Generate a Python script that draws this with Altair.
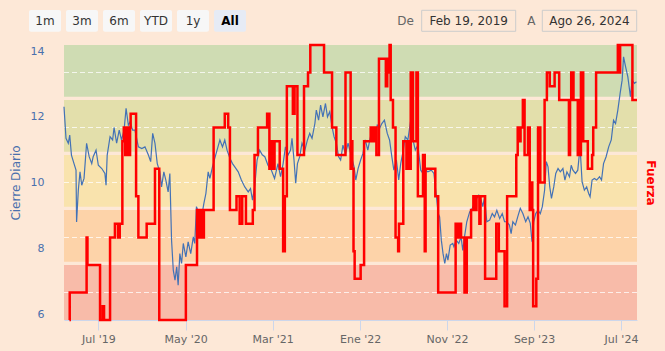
import altair as alt
import pandas as pd

# ---------------- data ----------------
close_dates = [
    "2019-03-03", "2019-03-10", "2019-03-18", "2019-03-23", "2019-03-29", "2019-04-07", "2019-04-14",
    "2019-04-16", "2019-04-22", "2019-04-28", "2019-05-04", "2019-05-12", "2019-05-21", "2019-05-30",
    "2019-06-08", "2019-06-13", "2019-06-23", "2019-07-01", "2019-07-13", "2019-07-24", "2019-07-28",
    "2019-08-01", "2019-08-11", "2019-08-20", "2019-08-25", "2019-09-03", "2019-09-12", "2019-09-20",
    "2019-09-29", "2019-10-06", "2019-10-14", "2019-10-20", "2019-10-29", "2019-11-06", "2019-11-18",
    "2019-11-30", "2019-12-11", "2019-12-23", "2019-12-31", "2020-01-07", "2020-01-15", "2020-01-23",
    "2020-02-01", "2020-02-07", "2020-02-15", "2020-02-22", "2020-03-01", "2020-03-07", "2020-03-13",
    "2020-03-19", "2020-03-25", "2020-03-31", "2020-04-05", "2020-04-11", "2020-04-17", "2020-04-23",
    "2020-05-02", "2020-05-10", "2020-05-19", "2020-05-28", "2020-06-02", "2020-06-08", "2020-06-17",
    "2020-06-26", "2020-07-04", "2020-07-11", "2020-07-19", "2020-07-25", "2020-08-03", "2020-08-11",
    "2020-08-19", "2020-08-29", "2020-09-07", "2020-09-15", "2020-09-23", "2020-10-03", "2020-10-12",
    "2020-10-20", "2020-11-01", "2020-11-12", "2020-11-24", "2020-12-06", "2020-12-14", "2020-12-21",
    "2020-12-29", "2021-01-06", "2021-01-15", "2021-01-24", "2021-02-02", "2021-02-13", "2021-02-25",
    "2021-03-08", "2021-03-20", "2021-03-29", "2021-04-07", "2021-04-15", "2021-04-24", "2021-05-03",
    "2021-05-08", "2021-05-15", "2021-05-21", "2021-05-27", "2021-06-04", "2021-06-12", "2021-06-22",
    "2021-07-01", "2021-07-09", "2021-07-17", "2021-07-27", "2021-08-01", "2021-08-09", "2021-08-16",
    "2021-08-24", "2021-09-02", "2021-09-09", "2021-09-17", "2021-09-25", "2021-10-02", "2021-10-10",
    "2021-10-18", "2021-10-25", "2021-11-02", "2021-11-11", "2021-11-20", "2021-12-02", "2021-12-11",
    "2021-12-17", "2021-12-25", "2022-01-03", "2022-01-11", "2022-01-19", "2022-01-28", "2022-02-04",
    "2022-02-12", "2022-02-21", "2022-03-02", "2022-03-10", "2022-03-18", "2022-03-27", "2022-04-06",
    "2022-04-14", "2022-04-22", "2022-04-29", "2022-05-08", "2022-05-16", "2022-05-23", "2022-06-01",
    "2022-06-08", "2022-06-17", "2022-06-27", "2022-07-05", "2022-07-13", "2022-07-22", "2022-08-01",
    "2022-08-09", "2022-08-17", "2022-08-26", "2022-09-07", "2022-09-16", "2022-09-25", "2022-10-01",
    "2022-10-06", "2022-10-12", "2022-10-18", "2022-10-24", "2022-10-30", "2022-11-04", "2022-11-12",
    "2022-11-21", "2022-11-25", "2022-12-03", "2022-12-12", "2022-12-20", "2022-12-26", "2023-01-01",
    "2023-01-09", "2023-01-19", "2023-01-28", "2023-02-05", "2023-02-13", "2023-02-20", "2023-02-28",
    "2023-03-06", "2023-03-12", "2023-03-20", "2023-03-30", "2023-04-08", "2023-04-16", "2023-04-24",
    "2023-05-04", "2023-05-13", "2023-05-21", "2023-05-29", "2023-06-07", "2023-06-13", "2023-06-19",
    "2023-06-28", "2023-07-06", "2023-07-15", "2023-07-24", "2023-08-03", "2023-08-11", "2023-08-19",
    "2023-08-25", "2023-08-31", "2023-09-07", "2023-09-15", "2023-09-23", "2023-09-30", "2023-10-08",
    "2023-10-14", "2023-10-20", "2023-10-26", "2023-11-01", "2023-11-09", "2023-11-16", "2023-11-24",
    "2023-12-02", "2023-12-11", "2023-12-18", "2023-12-25", "2024-01-03", "2024-01-09", "2024-01-15",
    "2024-01-24", "2024-02-01", "2024-02-09", "2024-02-16", "2024-02-24", "2024-03-03", "2024-03-10",
    "2024-03-15", "2024-03-22", "2024-03-30", "2024-04-07", "2024-04-17", "2024-04-24", "2024-05-01",
    "2024-05-10", "2024-05-19", "2024-05-28", "2024-06-05", "2024-06-12", "2024-06-20", "2024-06-28",
    "2024-07-05", "2024-07-10", "2024-07-17", "2024-07-25", "2024-07-31", "2024-08-03", "2024-08-09",
    "2024-08-17", "2024-08-24",
]
close_values = [
    12.31, 11.35, 11.20, 11.45, 10.84, 10.58, 10.38,
    8.80, 9.77, 10.33, 9.92, 10.13, 11.20, 10.79,
    10.58, 10.79, 10.99, 10.53, 10.43, 10.28, 9.92,
    10.84, 11.40, 11.30, 11.68, 11.20, 11.60, 11.30,
    11.60, 12.26, 11.75, 11.85, 11.60, 11.60, 11.09,
    11.04, 11.09, 10.84, 10.64, 11.50, 11.20, 10.58,
    10.33, 9.87, 10.33, 10.08, 9.72, 10.28, 8.25,
    7.34, 7.03, 7.44, 6.88, 7.84, 7.54, 8.15,
    7.74, 8.20, 7.84, 8.35, 8.15, 9.27, 9.06,
    8.96, 9.37, 9.67, 10.33, 10.13, 10.48, 10.74,
    10.99, 11.30, 11.09, 11.30, 10.99, 10.74, 10.58,
    10.48, 10.33, 10.08, 9.87, 9.72, 9.82, 9.47,
    9.92, 10.69, 10.99, 10.85, 10.79, 10.53, 10.38,
    10.13, 10.58, 10.18, 10.58, 11.09, 10.84, 10.99,
    11.35, 10.69, 9.98, 10.58, 10.79, 11.20, 10.99,
    11.30, 11.50, 11.35, 11.80, 12.21, 11.90, 12.36,
    12.00, 12.41, 12.00, 12.16, 11.70, 11.40, 11.20,
    10.79, 10.69, 11.14, 10.89, 11.20, 10.79, 10.48,
    10.08, 10.43, 10.69, 10.89, 11.30, 10.99, 11.30,
    11.60, 11.40, 11.75, 11.65, 11.80, 11.90, 11.50,
    11.30, 10.79, 10.38, 10.69, 10.08, 10.58, 10.99,
    11.40, 11.30, 11.90, 11.30, 10.99, 11.14, 10.38,
    10.28, 10.38, 10.33, 10.38, 10.28, 9.57, 9.06,
    8.96, 8.25, 7.84, 7.54, 7.84, 7.64, 8.10,
    8.15, 8.05, 8.25, 8.15, 8.35, 7.94, 8.35,
    8.81, 9.11, 9.22, 9.37, 9.52, 9.62, 9.47,
    9.27, 9.57, 8.81, 8.86, 9.06, 8.96, 9.16,
    8.91, 9.06, 8.81, 8.81, 8.71, 8.45, 8.81,
    8.71, 8.96, 9.22, 9.06, 8.81, 8.96, 8.76,
    8.20, 8.81, 9.06, 9.16, 9.06, 9.27, 9.77,
    10.64, 10.48, 9.87, 9.52, 9.87, 10.28, 10.43,
    10.33, 10.43, 10.08, 10.33, 10.18, 10.53, 10.38,
    10.28, 10.38, 11.09, 10.03, 9.77, 9.87, 9.67,
    9.57, 10.08, 10.13, 10.08, 10.18, 10.08, 10.58,
    10.79, 11.09, 11.30, 11.90, 11.80, 12.21, 12.72,
    13.12, 13.83, 13.53, 13.22, 12.82, 12.62, 13.12,
    13.02, 13.07,
]

fuerza_dates = [
    "2019-03-22", "2019-03-23", "2019-05-21", "2019-05-24", "2019-07-07", "2019-07-16", "2019-07-21",
    "2019-08-11", "2019-08-28", "2019-09-08", "2019-09-14", "2019-09-23", "2019-09-28", "2019-10-03",
    "2019-10-08", "2019-10-13", "2019-10-20", "2019-10-22", "2019-11-10", "2019-11-18", "2019-12-17",
    "2020-01-15", "2020-01-30", "2020-05-02", "2020-06-10", "2020-06-16", "2020-06-21", "2020-06-28",
    "2020-07-04", "2020-08-07", "2020-09-15", "2020-09-27", "2020-10-03", "2020-10-26", "2020-11-06",
    "2020-11-15", "2020-11-28", "2020-12-22", "2020-12-28", "2021-01-09", "2021-02-10", "2021-02-18",
    "2021-02-24", "2021-03-03", "2021-03-08", "2021-03-26", "2021-04-07", "2021-04-13", "2021-04-20",
    "2021-05-11", "2021-05-17", "2021-05-27", "2021-06-19", "2021-07-03", "2021-07-11", "2021-08-28",
    "2021-09-25", "2021-10-10", "2021-11-11", "2021-11-29", "2021-12-02", "2021-12-05", "2021-12-09",
    "2021-12-13", "2022-01-03", "2022-01-15", "2022-02-07", "2022-02-12", "2022-02-17", "2022-02-21",
    "2022-02-25", "2022-02-27", "2022-03-08", "2022-04-01", "2022-04-06", "2022-04-11", "2022-04-14",
    "2022-04-18", "2022-04-26", "2022-05-05", "2022-05-14", "2022-05-17", "2022-06-01", "2022-06-12",
    "2022-06-17", "2022-06-20", "2022-06-27", "2022-07-05", "2022-07-17", "2022-07-22", "2022-08-09",
    "2022-08-15", "2022-08-18", "2022-09-21", "2022-10-01", "2022-12-01", "2022-12-07", "2022-12-13",
    "2022-12-20", "2023-01-01", "2023-01-04", "2023-01-07", "2023-01-09", "2023-01-24", "2023-02-01",
    "2023-02-08", "2023-02-12", "2023-02-22", "2023-02-26", "2023-03-14", "2023-04-22", "2023-05-01",
    "2023-05-21", "2023-05-30", "2023-07-01", "2023-07-06", "2023-07-12", "2023-07-16", "2023-07-24",
    "2023-07-30", "2023-08-11", "2023-08-17", "2023-08-22", "2023-08-26", "2023-08-29", "2023-09-09",
    "2023-09-15", "2023-09-23", "2023-10-08", "2023-10-16", "2023-10-26", "2023-11-12", "2023-11-28",
    "2024-01-01", "2024-01-05", "2024-01-09", "2024-01-17", "2024-02-01", "2024-02-05", "2024-02-08",
    "2024-02-12", "2024-02-20", "2024-03-07", "2024-03-22", "2024-03-26", "2024-04-05", "2024-06-20",
    "2024-06-24", "2024-06-28", "2024-08-10", "2024-08-26",
]
fuerza_levels = [
    0, 2, 6, 4, 0, 1, 0,
    6, 7, 6, 7, 13, 14, 12,
    14, 12, 14, 15, 9, 6, 7,
    11, 0, 4, 8, 6, 8, 6,
    8, 14, 15, 14, 8, 9, 7,
    9, 7, 8, 12, 14, 15, 11,
    13, 11, 13, 11, 5, 9, 17,
    15, 17, 12, 17, 18, 20, 18,
    14, 12, 18, 11, 13, 11, 5,
    3, 4, 13, 14, 13, 14, 13,
    14, 12, 19, 17, 19, 18, 20,
    16, 14, 6, 5, 7, 13, 11,
    13, 11, 18, 13, 18, 9, 12,
    5, 11, 9, 2, 7, 6, 7,
    6, 2, 6, 2, 6, 8, 9,
    8, 9, 7, 9, 3, 7, 5,
    1, 9, 12, 14, 13, 14, 16,
    12, 14, 8, 10, 8, 1, 3,
    14, 10, 16, 18, 17, 18, 16,
    12, 16, 18, 16, 12, 16, 12,
    18, 13, 11, 12, 14, 18, 20,
    18, 20, 16, 16,
]

band_low = [0, 4, 8, 12, 16]
band_high = [4, 8, 12, 16, 20]
band_colors = ["#f8bba9", "#fdd3a9", "#f9e3ad", "#e3dfab", "#cfdcb3"]
band_breaks = [4, 8, 12, 16]
fuerza_grid = [2, 6, 10, 14, 18]
price_ticks = [6, 8, 10, 12, 14]
x_tick_months = [(2019, 7), (2020, 5), (2021, 3), (2022, 1), (2022, 11), (2023, 9), (2024, 7)]
month_names = ["Ene", "Feb", "Mar", "Abr", "May", "Jun", "Jul", "Ago", "Sep", "Oct", "Nov", "Dic"]
range_buttons = ["1m", "3m", "6m", "YTD", "1y", "All"]
selected_button = "All"
from_label, from_value = "De", "Feb 19, 2019"
to_label, to_value = "A", "Ago 26, 2024"

# ---------------- styling ----------------
W, H = 573, 275
BG = "#fde8d7"
BLUE = "#4372b6"
BLUE_TXT = "#4a70ad"
RED = "#ff0000"
FONT = "DejaVu Sans"

close_df = pd.DataFrame({"date": close_dates, "close": close_values})
fuerza_df = pd.DataFrame({"date": fuerza_dates, "level": fuerza_levels})
bands_df = pd.DataFrame({"lo": band_low, "hi": band_high, "color": band_colors})
breaks_df = pd.DataFrame({"level": band_breaks})
grid_df = pd.DataFrame({"level": fuerza_grid})
one = pd.DataFrame({"k": [0]})

x_scale = alt.Scale(
    type="utc",
    domain=[alt.DateTime(year=2019, month=3, date=3, utc=True),
            alt.DateTime(year=2024, month=8, date=26, utc=True)],
)
month_js = "[" + ",".join("'" + m + "'" for m in month_names) + "]"
x_axis = alt.Axis(
    values=[alt.DateTime(year=y, month=m, date=1, utc=True) for y, m in x_tick_months],
    labelExpr=month_js + "[utcmonth(datum.value)] + \" '\" + utcFormat(datum.value, '%y')",
    domainColor="#ccd6eb", tickColor="#ccd6eb", tickSize=10,
    labelColor="#666666", labelFontSize=11, labelPadding=3,
    grid=False, title=None,
)
f_scale = alt.Scale(domain=[0, 20], nice=False, zero=False)
p_scale = alt.Scale(domain=[5.82, 14.19], nice=False, zero=False)

bands = alt.Chart(bands_df).mark_rect().encode(
    x=alt.value(0), x2=alt.value(W),
    y=alt.Y("lo:Q", scale=f_scale, axis=None), y2="hi:Q",
    color=alt.Color("color:N", scale=None),
)
breaks = alt.Chart(breaks_df).mark_rule(color=BG, strokeWidth=3.3, yOffset=-1.7).encode(
    x=alt.value(0), x2=alt.value(W),
    y=alt.Y("level:Q", scale=f_scale, axis=None),
)
grid = alt.Chart(grid_df).mark_rule(color="white", opacity=0.75, strokeDash=[5, 3], strokeWidth=1).encode(
    x=alt.value(0), x2=alt.value(W),
    y=alt.Y("level:Q", scale=f_scale, axis=None),
)
blue = alt.Chart(close_df).mark_line(color=BLUE, strokeWidth=1.2).encode(
    x=alt.X("date:T", scale=x_scale, axis=x_axis),
    y=alt.Y("close:Q", scale=p_scale, axis=alt.Axis(
        orient="left", values=price_ticks, title="Cierre Diario",
        labelColor=BLUE_TXT, labelFontSize=11, labelPadding=20,
        titleColor=BLUE_TXT, titleFontSize=12, titleFontWeight="normal", titlePadding=8,
        ticks=False, domain=False, grid=False,
    )),
)
red = alt.Chart(fuerza_df).mark_line(color=RED, strokeWidth=2.5, interpolate="step-after").encode(
    x=alt.X("date:T", scale=x_scale, axis=x_axis),
    y=alt.Y("level:Q", scale=f_scale, axis=alt.Axis(
        orient="right", title="Fuerza", labels=False, ticks=False, domain=False, grid=False,
        titleColor=RED, titleFontSize=12, titleFontWeight="bold", titlePadding=6,
    )),
)

# ---------------- range selector / date inputs (chrome) ----------------
ui = []
for i, lab in enumerate(range_buttons):
    sel = lab == selected_button
    left = -35 + 37 * i
    ui.append(alt.Chart(one).mark_rect(cornerRadius=2, color="#e6ebf5" if sel else "#f7f7f7").encode(
        x=alt.value(left), x2=alt.value(left + 32), y=alt.value(-35), y2=alt.value(-13.3)))
    ui.append(alt.Chart(one).mark_text(
        text=lab, font=FONT, fontSize=12, fontWeight="bold" if sel else "normal",
        color="#000000" if sel else "#333333", align="center", baseline="middle",
    ).encode(x=alt.value(left + 16), y=alt.value(-24)))

for lab, lab_x, box_l, box_r, val in [
    (from_label, 341.5, 357.7, 451.7, from_value),
    (to_label, 467.3, 478.3, 572.7, to_value),
]:
    ui.append(alt.Chart(one).mark_text(text=lab, font=FONT, fontSize=12, color="#666666",
                                       align="center", baseline="middle").encode(
        x=alt.value(lab_x), y=alt.value(-24)))
    ui.append(alt.Chart(one).mark_rect(fillOpacity=0, stroke="#cccccc", strokeWidth=1).encode(
        x=alt.value(box_l), x2=alt.value(box_r), y=alt.value(-34.7), y2=alt.value(-13.7)))
    ui.append(alt.Chart(one).mark_text(text=val, font=FONT, fontSize=12, color="#333333",
                                       align="center", baseline="middle").encode(
        x=alt.value((box_l + box_r) / 2), y=alt.value(-24)))

chart = alt.layer(bands, breaks, grid, blue, red, *ui).resolve_scale(
    y="independent"
).properties(
    width=W, height=H,
    autosize=alt.AutoSizeParams(type="none"),
    padding={"left": 64, "top": 45, "right": 28, "bottom": 31},
).configure(
    background=BG, font=FONT,
).configure_view(stroke=None)

chart.save("out.html", embed_options={"renderer": "svg", "actions": False})
